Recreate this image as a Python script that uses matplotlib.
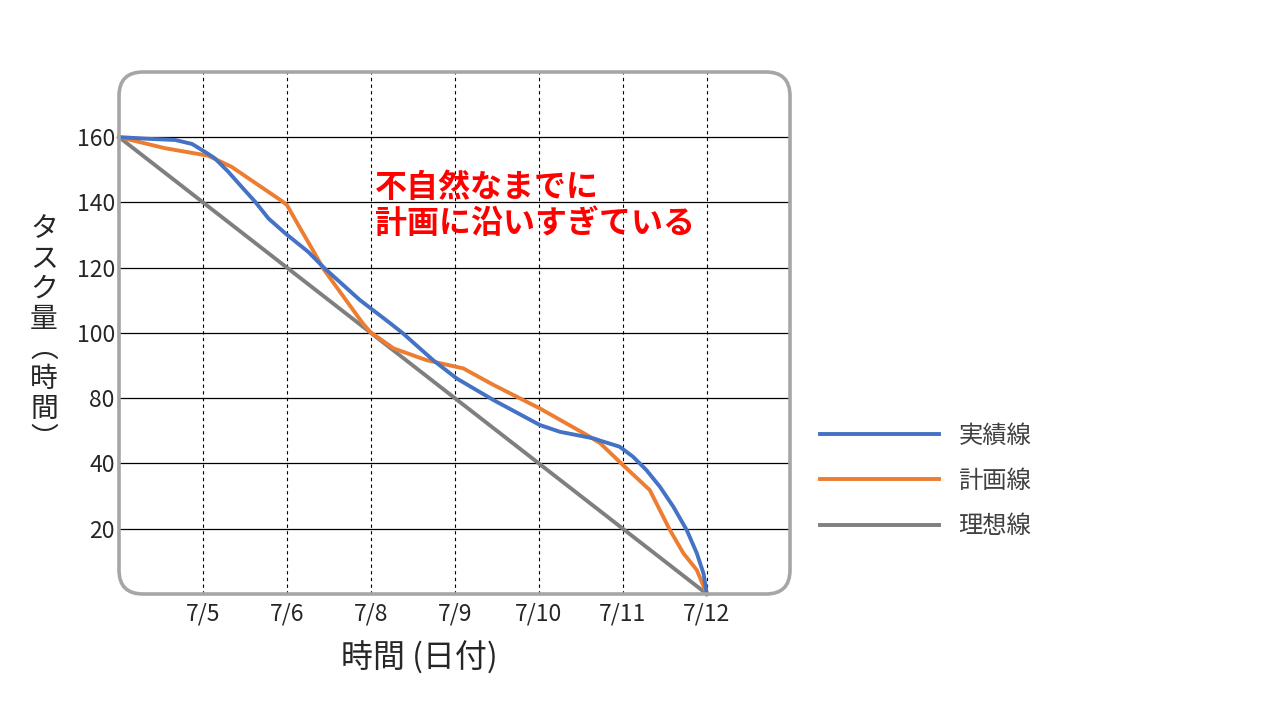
import numpy as np
import matplotlib
matplotlib.use("Agg")
from matplotlib import pyplot as plt
import matplotlib.patches as mpatches
import matplotlib.transforms as mtransforms

plt.rcParams['font.family'] = ['Noto Sans CJK JP', 'DejaVu Sans']

# datos (x = dias desde el inicio, y = horas)
day_labels = ['7/5', '7/6', '7/8', '7/9', '7/10', '7/11', '7/12']
ytick_labels = ['20', '40', '80', '100', '120', '140', '160']

jisseki_x = [0, 0.35, 0.67, 0.87, 1.02, 1.14, 1.30, 1.46, 1.62, 1.78, 1.98, 2.25, 2.45,
             2.87, 3.23, 3.38, 3.74, 4.02, 4.46, 5.01, 5.25, 5.65, 5.73, 5.96, 6.12,
             6.28, 6.44, 6.60, 6.76, 6.88, 6.96, 7.0]
jisseki_y = [160, 159.4, 159.0, 157.6, 154.9, 152.6, 147.9, 142.6, 137.4, 131.5, 126.3, 119.9, 114.0,
             102.9, 94.8, 91.3, 81.9, 75.5, 67.9, 59.2, 56.8, 54.5, 53.7, 51.6, 48.1,
             43.4, 37.6, 30.6, 22.4, 14.3, 7.2, 0]

keikaku_x = [0, 0.55, 1.06, 1.34, 1.66, 1.94, 2.0, 2.18, 2.33, 2.43, 2.90, 2.99, 3.27, 3.66,
             4.10, 4.46, 5.01, 5.57, 5.73, 5.96, 6.32, 6.44, 6.56, 6.72, 6.88, 7.0]
keikaku_y = [160, 156.1, 153.5, 149.6, 143.2, 137.6, 136.2, 126.9, 119.3, 114.0, 94.9, 91.8, 86.0, 81.9,
             79.0, 73.2, 65.0, 55.7, 52.8, 46.3, 36.4, 29.4, 22.4, 14.3, 8.4, 0]

risou_x = [0, 7]
risou_y = [160, 0]

fig = plt.figure(figsize=(12.8, 7.2), dpi=100)
ax = fig.add_axes([119/1280, 126/720, 671/1280, 522/720])
ax.set_xlim(0, 7.99)
ax.set_ylim(0, 182.8)

ygrid = [160*k/7 for k in range(1, 8)]
for yy in ygrid:
    ax.axhline(yy, color='black', lw=0.9, zorder=1)
for xx in range(1, 8):
    ax.axvline(xx, color='black', lw=0.8, ls=(0, (3, 3)), zorder=1)

ax.plot(risou_x, risou_y, color='#7F7F7F', lw=2.8, label='理想線', zorder=3, clip_on=False)
ax.plot(keikaku_x, keikaku_y, color='#ED7D31', lw=2.8, label='計画線', zorder=4, clip_on=False,
        solid_joinstyle='round')
ax.plot(jisseki_x, jisseki_y, color='#4472C4', lw=2.8, label='実績線', zorder=5, clip_on=False,
        solid_joinstyle='round')

ax.set_xticks(range(1, 8))
ax.set_xticklabels(day_labels, fontsize=16.5, color='#262626')
ax.set_yticks(ygrid)
ax.set_yticklabels(ytick_labels, fontsize=16.5, color='#262626')
ax.tick_params(axis='x', length=0, pad=6)
ax.tick_params(axis='y', length=0, pad=3)
for s in ax.spines.values():
    s.set_visible(False)

# marco redondeado
borde = mpatches.FancyBboxPatch((119, 126), 671, 522, boxstyle="round,pad=0,rounding_size=24",
                                transform=mtransforms.IdentityTransform(), fill=False,
                                edgecolor='#A6A6A6', lw=2.6, zorder=6, clip_on=False)
ax.add_artist(borde)

fig.text(419/1280, 1 - 658/720, '時間 (日付)', fontsize=23, color='#262626', ha='center', va='center')

fig.text(44/1280, 1 - 334/720, 'タ\nス\nク\n量\n︵\n時\n間\n︶', fontsize=20, color='#262626',
         ha='center', va='center', linespacing=1.0)

fig.text(375/1280, 1 - 206/720, '不自然なまでに\n計画に沿いすぎている',
         fontsize=23, fontweight='bold', color='#FF0000', ha='left', va='center', linespacing=1.15)

h, l = ax.get_legend_handles_labels()
order = [2, 1, 0]
fig.legend([h[i] for i in order], [l[i] for i in order], loc='center left',
           bbox_to_anchor=(798/1280, 1 - 481/720), frameon=False, fontsize=17.5,
           handlelength=4.9, handletextpad=0.8, labelspacing=0.8, labelcolor='#404040')

fig.savefig('out.png', dpi=100)
